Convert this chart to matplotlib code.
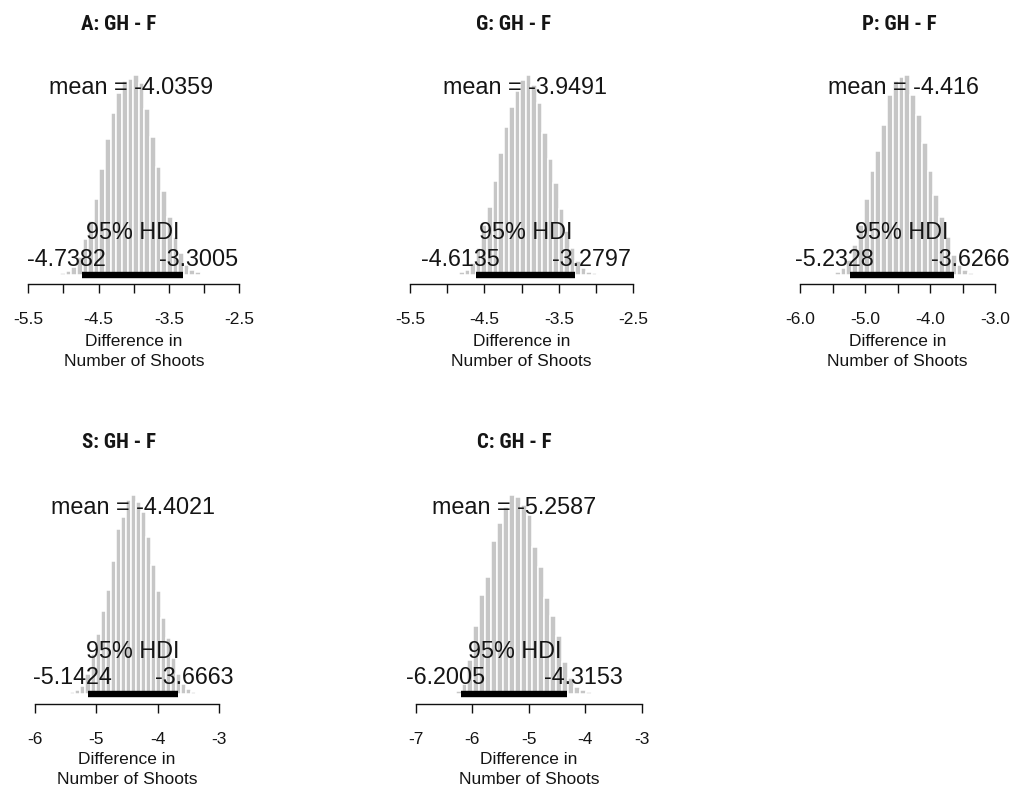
import matplotlib
matplotlib.use("Agg")
import matplotlib.pyplot as plt
import numpy as np
from matplotlib.transforms import offset_copy
from matplotlib import font_manager as fm

plt.rcParams['axes.unicode_minus'] = False
plt.rcParams['font.family'] = ['Liberation Sans', 'DejaVu Sans']

# ---------------- data ----------------
titles = ["A: GH - F", "G: GH - F", "P: GH - F", "S: GH - F", "C: GH - F"]
means = [-4.0359, -3.9491, -4.416, -4.4021, -5.2587]
mean_labels = ["-4.0359", "-3.9491", "-4.416", "-4.4021", "-5.2587"]
hdi_low = [-4.7382, -4.6135, -5.2328, -5.1424, -6.2005]
hdi_high = [-3.3005, -3.2797, -3.6266, -3.6663, -4.3153]
hist_start = [-5.127, -4.910, -5.554, -5.506, -6.402]

heights_A = [0.5, 1, 2, 4, 9, 18, 27, 38, 53, 68, 81, 91, 97, 98, 100, 96, 83, 69,
             54, 42, 29, 19, 11, 5, 2.5, 1.4, 0.7]
heights_G = [0.5, 1.4, 2.5, 6, 13.5, 25, 34, 47, 61, 74, 84, 92, 97.5, 100, 95, 86,
             71, 58, 46, 33, 22, 13.5, 7, 3.4, 1.7, 0.8, 0.3]
heights_P = [0.7, 1.7, 3.7, 7.6, 15, 25, 38, 52, 62, 75, 90, 97, 99, 100, 90, 80, 66,
             52, 40, 29, 19, 10, 5, 2.4, 1, 0.5]
heights_S = [0.5, 1, 2, 4, 10, 20, 30, 41.5, 52.5, 67, 83, 89, 97.5, 100, 96.6, 91.5,
             79, 65, 52, 38, 28, 18, 10, 5, 2.5, 1.2, 0.5]
heights_C = [0.5, 1.4, 5, 17, 34, 50, 59, 77, 86, 94, 100, 99, 95, 90, 74, 64, 48, 39,
             29, 16, 8, 3.5, 1.8, 0.9, 0.4]
heights = [heights_A, heights_G, heights_P, heights_S, heights_C]

ticks_A = [-5.5, -5.0, -4.5, -4.0, -3.5, -3.0, -2.5]
ticklabels_A = ["-5.5", "", "-4.5", "", "-3.5", "", "-2.5"]
ticks_G = [-5.5, -5.0, -4.5, -4.0, -3.5, -3.0, -2.5]
ticklabels_G = ["-5.5", "", "-4.5", "", "-3.5", "", "-2.5"]
ticks_P = [-6.0, -5.5, -5.0, -4.5, -4.0, -3.5, -3.0]
ticklabels_P = ["-6.0", "", "-5.0", "", "-4.0", "", "-3.0"]
ticks_S = [-6, -5, -4, -3]
ticklabels_S = ["-6", "-5", "-4", "-3"]
ticks_C = [-7, -6, -5, -4, -3]
ticklabels_C = ["-7", "-6", "-5", "-4", "-3"]
ticks = [ticks_A, ticks_G, ticks_P, ticks_S, ticks_C]
ticklabels = [ticklabels_A, ticklabels_G, ticklabels_P, ticklabels_S, ticklabels_C]

xlabel_lines = ["Difference in", "Number of Shoots"]
cred_label = "95% HDI"

# ---------------- layout (pixels) ----------------
W, H, DPI = 1014, 790, 100
# first tick px, last tick px, baseline px, peak px, title x, title y, axis offset px
layout = [
    (28.3, 239.3, 275, 75, 119, 25, 9),
    (410.0, 633.3, 275, 75, 514, 25, 9),
    (800.0, 995.0, 275, 75, 899, 25, 9),
    (35.0, 219.3, 694, 495, 119, 443, 10),
    (416.0, 641.7, 694, 495, 514, 443, 10),
]

BAR_COLOR = "#c6c6c6"
TXT = "#151515"
PX2PT = 72.0 / DPI

# pick a condensed bold font for the panel titles if one is installed
_fonts = fm.fontManager.ttflist
def _has(name, stretch=None):
    for f in _fonts:
        if f.name == name and (stretch is None or f.stretch == stretch) and \
                f.weight in (600, 700, 800, "bold", "semibold"):
            return True
    return False

title_kw = dict(fontweight="bold")
if _has("Liberation Sans Narrow"):
    title_kw.update(family=["Liberation Sans Narrow"], fontsize=15)
elif _has("Roboto Condensed"):
    title_kw.update(family=["Roboto Condensed"], fontsize=15)
elif _has("DejaVu Sans", "condensed"):
    title_kw.update(family=["DejaVu Sans"], fontstretch="condensed", fontsize=13.5)
else:
    title_kw.update(family=["Liberation Sans", "DejaVu Sans"], fontsize=12.5)

fig = plt.figure(figsize=(W / DPI, H / DPI), dpi=DPI)
fig.patch.set_facecolor("white")
renderer = fig.canvas.get_renderer()

for i in range(5):
    x0, x1, base, peak, tx, ty, aoff = layout[i]
    ax = fig.add_axes([x0 / W, 1 - base / H, (x1 - x0) / W, (base - peak) / H])
    ax.set_facecolor("none")
    h = np.array(heights[i], dtype=float)
    bw = (hdi_high[i] - hdi_low[i]) / 18.0
    edges = hist_start[i] + bw * np.arange(len(h))
    ax.bar(edges, h, width=bw, align="edge", color=BAR_COLOR,
           edgecolor="white", linewidth=1.1, zorder=1)
    ax.plot([hdi_low[i], hdi_high[i]], [0, 0], color="black", lw=4.6,
            solid_capstyle="butt", clip_on=False, zorder=3)
    ax.set_xlim(ticks[i][0], ticks[i][-1])
    ax.set_ylim(0, h.max())

    for s in ("left", "right", "top"):
        ax.spines[s].set_visible(False)
    ax.spines["bottom"].set_position(("outward", aoff * PX2PT))
    ax.spines["bottom"].set_linewidth(1.0)
    ax.spines["bottom"].set_color("#111111")
    ax.set_yticks([])
    ax.set_xticks(ticks[i])
    ax.set_xticklabels(ticklabels[i])
    ax.tick_params(axis="x", direction="out", length=9 * PX2PT, width=1.0,
                   pad=13.5, labelsize=12.5, colors="#111111", labelcolor=TXT)

    # x label lines
    for line, dy in zip(xlabel_lines, (66, 86)):
        tr = offset_copy(ax.transAxes, fig=fig, x=0, y=-dy, units="dots")
        ax.text(0.5, 0, line, transform=tr, ha="center", va="center",
                fontsize=12.5, color=TXT)

    # mean text
    ax.text(means[i], 0.935 * h.max(), "mean = " + mean_labels[i],
            ha="center", va="center", fontsize=16.8, color=TXT, zorder=4)

    # HDI label
    ax.annotate(cred_label, xy=((hdi_low[i] + hdi_high[i]) / 2, 0),
                xytext=(0, 43 * PX2PT), textcoords="offset points",
                ha="center", va="center", fontsize=16.8, color=TXT,
                annotation_clip=False, zorder=4)
    # HDI limits
    for val, frac in ((hdi_low[i], 0.7), (hdi_high[i], 0.3)):
        t = ax.annotate(f"{val:.4f}", xy=(val, 0), xytext=(0, 16 * PX2PT),
                        textcoords="offset points", ha="center", va="center",
                        fontsize=16.8, color=TXT, annotation_clip=False, zorder=4)
        wpx = t.get_window_extent(renderer).width
        t.xyann = ((0.5 - frac) * wpx * PX2PT, 16 * PX2PT)

    fig.text(tx / W, 1 - ty / H, titles[i], ha="center", va="center",
             color=TXT, **title_kw)

fig.savefig("out.png", dpi=DPI, facecolor="white")
